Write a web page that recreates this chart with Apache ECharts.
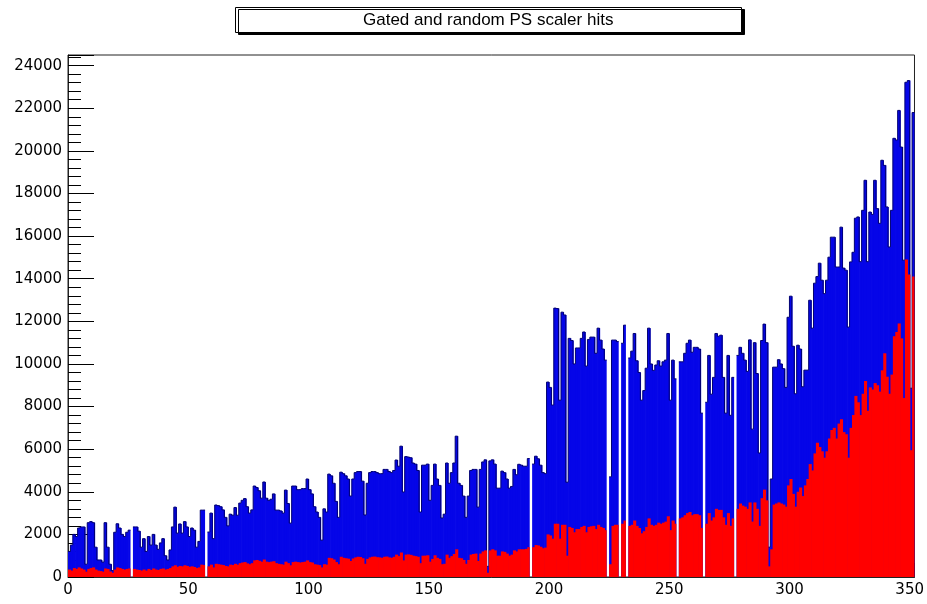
<!DOCTYPE html>
<html>
<head>
<meta charset="utf-8">
<script src="https://cdn.jsdelivr.net/npm/echarts@6/dist/echarts.min.js"></script>
<style>html,body{margin:0;padding:0;background:#fff;}#c{width:927px;height:604px;}</style>
</head>
<body>
<div id="c"></div>
<script>
const titleText = "Gated and random PS scaler hits";
const xTicks = [0, 50, 100, 150, 200, 250, 300, 350];
const yTicks = [0, 2000, 4000, 6000, 8000, 10000, 12000, 14000, 16000, 18000, 20000, 22000, 24000];
// gated hits per bin (blue)
const gated = [
1200,1500,2000,1900,2300,2350,2350,600,2550,2600,2550,1400,800,800,700,2550,1400,600,300,2100,
2500,2300,2000,1900,2100,2200,0,2350,2350,2150,1400,1800,1200,1900,1500,2000,1500,1300,1600,1800,
1000,800,1270,2350,3280,2060,2490,2060,2600,2350,1900,2300,2200,1400,1670,3140,3140,0,2110,3000,
1800,3380,3350,3300,3150,2800,2400,2950,2900,3260,2900,3470,3600,3680,3300,3000,3150,4270,4200,4050,
3700,4460,3700,3600,3650,3900,3140,3140,3100,3000,4080,3450,2530,4270,4270,4100,4100,4150,4150,4600,
4100,3900,3300,3050,2800,1730,3200,3050,4830,4750,4400,3550,2800,4920,4850,4750,4600,3800,4600,4900,
4950,4950,4500,2910,4400,4900,4950,4950,4900,4850,4850,5050,5050,4950,4900,5000,5490,5200,6140,3990,
5650,5630,5600,5350,5300,5000,3050,5250,5250,5300,3600,4300,5300,4600,4300,2770,2950,5350,4400,4900,
5350,6610,4400,4300,3800,2800,3800,5000,5050,5050,3280,5050,5400,5500,500,5450,5500,5300,4170,4170,
4970,4900,4600,4170,4250,5050,4800,5290,5250,5200,5200,5560,0,5300,5670,5550,5250,4900,4850,9150,
8900,8070,12620,12600,8300,12430,12300,4450,11200,11100,10000,10750,10750,11200,11500,9900,11150,11260,11260,10500,
11680,11120,10700,10180,0,4700,11120,11120,11050,0,10970,11820,0,10280,10600,11430,10150,9600,8300,8750,
9800,11680,10000,9700,9950,10150,9900,10100,10180,11430,8300,10180,9300,0,10100,10100,10500,10970,11120,10550,
10780,10780,10700,7690,0,8200,10400,8580,9370,11430,11300,11350,9370,7690,10400,7590,9370,0,10400,10780,
10500,10180,9650,11130,6940,11000,9550,5820,11100,11870,11000,1400,4600,9850,9850,10200,10000,9780,8900,12190,
13180,10830,8600,10880,10700,8930,9710,9710,12990,11680,13790,14100,14730,13930,13300,13930,15010,15950,15950,14550,
14550,16420,14500,14400,11730,14790,15240,16840,16900,14800,17210,18620,14800,17130,17020,18620,17290,16600,19560,19320,
17370,15490,17210,20590,20510,21900,20180,14870,23220,23300,8860,21800
];
// random hits per bin (red)
const random = [
350,300,420,380,450,400,350,250,380,420,450,350,300,280,250,400,380,260,200,350,
450,420,380,350,380,400,0,380,350,330,300,350,300,380,330,400,350,330,380,400,
350,380,420,500,550,480,520,500,550,520,480,500,470,420,450,580,560,0,500,580,
450,620,600,580,560,520,500,580,560,620,580,650,680,700,640,600,650,780,800,760,
720,820,720,700,720,740,650,620,600,580,720,650,550,700,720,700,680,700,720,780,
700,680,600,580,560,450,600,580,900,880,820,700,600,950,900,880,860,750,870,920,
950,940,880,620,850,920,950,960,930,920,900,950,960,920,900,950,1050,980,1150,780,
1050,1060,1040,1000,980,950,650,1000,1000,1020,720,850,1020,900,850,600,620,1050,900,980,
1080,1300,900,880,800,620,800,1050,1080,1100,750,1100,1200,1250,200,1250,1300,1250,1000,1000,
1200,1180,1100,1000,1050,1250,1200,1300,1300,1300,1320,1400,0,1400,1500,1480,1420,1350,1380,2000,
1950,1800,2500,2500,1800,2450,2450,1000,2350,2300,2100,2250,2250,2350,2400,2100,2350,2380,2400,2250,
2450,2350,2300,2200,0,600,2400,2450,2450,0,2500,2650,0,2400,2450,2650,2400,2300,2050,2150,
2350,2750,2450,2400,2450,2550,2500,2550,2600,2850,2200,2650,2500,0,2750,2800,2900,3000,3050,2900,
2950,2950,2900,2300,0,2500,3000,2650,2800,3200,3150,3150,2800,2450,3000,2400,2750,0,3200,3450,
3350,3300,3200,3500,2600,3500,3200,2400,3700,4100,3600,500,1300,3400,3450,3500,3450,3400,3300,4300,
4600,3900,3300,4000,4200,3800,4300,4600,5300,5000,5800,6300,6100,5900,5600,5900,6500,6900,7000,6500,
7200,7400,6800,6700,5600,7000,7600,8500,8200,7600,8600,9200,7800,8900,8800,9100,9000,8700,9700,10500,
9400,8600,9500,11300,11500,11900,11200,8400,14900,14200,5950,14100
];

const nBins = Math.min(gated.length, random.length);
const gatedData = [], randomData = [];
for (let k = 0; k < nBins; k++) {
  gatedData.push([k, gated[k], k > 0 ? gated[k - 1] : 0, k < nBins - 1 ? gated[k + 1] : 0]);
  randomData.push([k, random[k], k > 0 ? random[k - 1] : 0, k < nBins - 1 ? random[k + 1] : 0]);
}

function histRender(fill, stroke) {
  return function (params, api) {
    const k = api.value(0), v = api.value(1), prev = api.value(2), next = api.value(3);
    const p0 = api.coord([k, 0]);
    const p1 = api.coord([k + 1, v]);
    const pPrev = api.coord([k, prev]);
    const children = [];
    if (v > 0) {
      const extra = next > 0 ? 0.7 : 0;
      children.push({
        type: 'rect',
        shape: { x: p0[0], y: p1[1], width: p1[0] - p0[0] + extra, height: p0[1] - p1[1] },
        style: { fill: fill }
      });
      if (stroke) {
        const pts = [];
        if (prev > 0) pts.push([p0[0], pPrev[1]]);
        pts.push([p0[0], p1[1]]);
        pts.push([p1[0], p1[1]]);
        children.push({
          type: 'polyline',
          shape: { points: pts },
          style: { stroke: stroke, lineWidth: 1, fill: null }
        });
      }
    }
    return { type: 'group', children: children };
  };
}

const chart = echarts.init(document.getElementById('c'), null, { renderer: 'canvas' });
chart.setOption({
  animation: false,
  backgroundColor: '#ffffff',
  title: {
    text: titleText,
    left: 235,
    top: 7,
    padding: [5, 128, 4, 128],
    backgroundColor: '#ffffff',
    borderColor: '#000000',
    borderWidth: 1,
    shadowColor: '#000000',
    shadowOffsetX: 3,
    shadowOffsetY: 2,
    shadowBlur: 0,
    textStyle: { fontFamily: 'Liberation Sans', fontSize: 17, fontWeight: 'normal', color: '#000000' }
  },
  grid: {
    left: 68, right: 11, top: 55, bottom: 27,
    show: true, borderColor: '#222222', borderWidth: 1, backgroundColor: 'transparent'
  },
  xAxis: {
    type: 'value',
    min: xTicks[0],
    max: nBins,
    interval: xTicks[1] - xTicks[0],
    axisLine: { show: true, onZero: false, lineStyle: { color: '#222222', width: 1 } },
    axisTick: { show: true, inside: true, length: 14, lineStyle: { color: '#000' } },
    minorTick: { show: true, splitNumber: 5, length: 7, lineStyle: { color: '#000' } },
    splitLine: { show: false },
    axisLabel: {
      showMaxLabel: false, margin: 6,
      fontFamily: 'DejaVu Sans', fontSize: 15, color: '#000',
      formatter: function (v) { return xTicks.indexOf(v) >= 0 ? String(v) : ''; }
    }
  },
  yAxis: {
    type: 'value',
    min: yTicks[0],
    max: 24500,
    interval: yTicks[1] - yTicks[0],
    axisLine: { show: true, lineStyle: { color: '#222222', width: 1 } },
    axisTick: { show: true, inside: true, length: 26, lineStyle: { color: '#000' } },
    minorTick: { show: true, splitNumber: 5, length: 13, lineStyle: { color: '#000' } },
    splitLine: { show: false },
    axisLabel: {
      showMaxLabel: false, margin: 6,
      fontFamily: 'DejaVu Sans', fontSize: 15, color: '#000',
      formatter: function (v) { return yTicks.indexOf(v) >= 0 ? String(v) : ''; }
    }
  },
  series: [
    {
      name: 'gated', type: 'custom', renderItem: histRender('#0505e8', '#000070'),
      data: gatedData, encode: { x: 0, y: 1 }, clip: true, z: 2
    },
    {
      name: 'random', type: 'custom', renderItem: histRender('#ff0000', null),
      data: randomData, encode: { x: 0, y: 1 }, clip: true, z: 3
    }
  ]
});
</script>
</body>
</html>
